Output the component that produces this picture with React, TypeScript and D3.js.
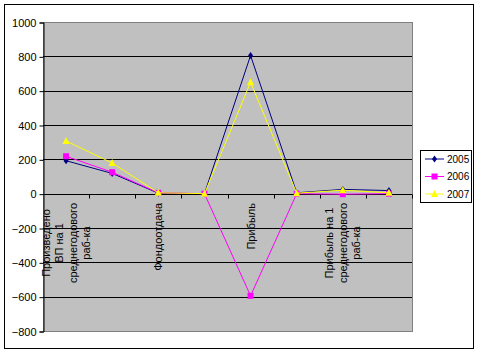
import React, { useEffect, useRef } from 'react';
import * as d3 from 'd3';

// categories (only every second label is shown, as in the source chart)
const categories = [
  'Произведено\nВП на 1\nсреднегодового\nраб-ка',
  '',
  'Фондоотдача',
  '',
  'Прибыль',
  '',
  'Прибыль на 1\nсреднегодового\nраб-ка',
  '',
];

const years = ['2005', '2006', '2007'];
const values2005 = [192, 118, 3, 0, 805, 5, 25, 18];
const values2006 = [218, 125, 5, 0, -595, 0, -3, 0];
const values2007 = [307, 179, 5, 0, 649, 3, 20, 5];

const yTicks = [-800, -600, -400, -200, 0, 200, 400, 600, 800, 1000];
const colors = ['#000080', '#FF00FF', '#FFFF00'];
const FONT = '"Liberation Sans", Arial, sans-serif';

function App() {
  const ref = useRef<SVGSVGElement>(null);

  useEffect(() => {
    const svg = d3.select(ref.current);
    svg.selectAll('*').remove();

    const plot = { left: 43, right: 412, top: 22, bottom: 331 };

    const x = d3.scaleBand<number>()
      .domain(d3.range(categories.length))
      .range([plot.left, plot.right]);
    const y = d3.scaleLinear().domain([-800, 1000]).range([plot.bottom, plot.top]);

    // chart border
    svg.append('rect')
      .attr('x', 4.5).attr('y', 4.5).attr('width', 469).attr('height', 344)
      .attr('fill', '#fff').attr('stroke', '#000').attr('stroke-width', 1);

    // plot area
    svg.append('rect')
      .attr('x', plot.left + 0.5).attr('y', plot.top + 0.5)
      .attr('width', plot.right - plot.left).attr('height', plot.bottom - plot.top)
      .attr('fill', '#C0C0C0').attr('stroke', '#808080').attr('stroke-width', 1);

    // gridlines
    svg.append('g').selectAll('line')
      .data(yTicks.filter(t => t > -800 && t < 1000))
      .join('line')
      .attr('x1', plot.left).attr('x2', plot.right)
      .attr('y1', d => Math.round(y(d)) + 0.5).attr('y2', d => Math.round(y(d)) + 0.5)
      .attr('stroke', '#000').attr('stroke-width', 1);

    // y axis
    const yAxis = svg.append('g')
      .attr('transform', `translate(${plot.left + 0.5},0.5)`)
      .call(d3.axisLeft(y).tickValues(yTicks).tickSize(4).tickPadding(3).tickFormat(d3.format('d')));
    yAxis.select('.domain').attr('stroke', '#000');
    yAxis.selectAll('.tick line').attr('stroke', '#000');
    yAxis.selectAll('text').attr('font-family', FONT).attr('font-size', 11).attr('fill', '#000');

    // x axis at zero, ticks between categories
    const zeroY = Math.round(y(0)) + 0.5;
    const xg = svg.append('g');
    xg.selectAll('line.tick')
      .data(d3.range(1, categories.length + 1))
      .join('line')
      .attr('class', 'tick')
      .attr('x1', d => Math.round(plot.left + d * x.step()) + 0.5)
      .attr('x2', d => Math.round(plot.left + d * x.step()) + 0.5)
      .attr('y1', zeroY).attr('y2', zeroY + 4)
      .attr('stroke', '#000');

    // category labels, rotated
    const labelTop = 203;
    categories.forEach((name, i) => {
      if (!name) return;
      const lines = name.split('\n');
      const cx = x(i)! + x.bandwidth() / 2;
      const g = svg.append('g');
      const texts = lines.map(ln => g.append('text')
        .attr('font-family', FONT).attr('font-size', 11).attr('fill', '#000')
        .attr('text-anchor', 'middle').attr('dominant-baseline', 'central')
        .text(ln));
      const maxLen = d3.max(texts, t => (t.node() as SVGTextElement).getComputedTextLength()) || 0;
      const cy = labelTop + maxLen / 2;
      texts.forEach((t, j) => {
        const tx = cx + (j - (lines.length - 1) / 2) * 13.5;
        t.attr('transform', `translate(${tx},${cy}) rotate(-90)`);
      });
    });

    // series
    const series = [values2005, values2006, values2007];
    const lineGen = d3.line<number>()
      .x((_, i) => x(i)! + x.bandwidth() / 2)
      .y(d => y(d));

    const marker = (g: any, s: number, px: number, py: number) => {
      if (s === 0) {
        g.append('path').attr('d', `M${px},${py - 3.5}L${px + 2.5},${py}L${px},${py + 3.5}L${px - 2.5},${py}Z`)
          .attr('fill', colors[s]);
      } else if (s === 1) {
        g.append('rect').attr('x', px - 3).attr('y', py - 3).attr('width', 6).attr('height', 6)
          .attr('fill', colors[s]);
      } else {
        g.append('path').attr('d', `M${px},${py - 4}L${px + 3.5},${py + 3}L${px - 3.5},${py + 3}Z`)
          .attr('fill', colors[s]);
      }
    };

    series.forEach((vals, s) => {
      const g = svg.append('g');
      g.append('path')
        .attr('d', lineGen(vals))
        .attr('fill', 'none')
        .attr('stroke', colors[s])
        .attr('stroke-width', 1);
      vals.forEach((v, i) => marker(g, s, x(i)! + x.bandwidth() / 2, y(v)));
    });

    // legend
    const lg = svg.append('g');
    lg.append('rect')
      .attr('x', 420.5).attr('y', 150.5).attr('width', 51).attr('height', 52)
      .attr('fill', '#fff').attr('stroke', '#000');
    years.forEach((yr, s) => {
      const ly = 159 + s * 17.5;
      lg.append('line').attr('x1', 425).attr('x2', 444).attr('y1', ly).attr('y2', ly)
        .attr('stroke', colors[s]).attr('stroke-width', 1);
      marker(lg, s, 434.5, ly);
      lg.append('text')
        .attr('x', 447).attr('y', ly)
        .attr('dominant-baseline', 'central')
        .attr('font-family', FONT).attr('font-size', 10).attr('fill', '#000')
        .text(yr);
    });
  }, []);

  return (
    <div style={{ position: 'fixed', left: 0, top: 0 }}>
      <svg ref={ref} width={480} height={352} style={{ display: 'block' }} />
    </div>
  );
}

export default App;
